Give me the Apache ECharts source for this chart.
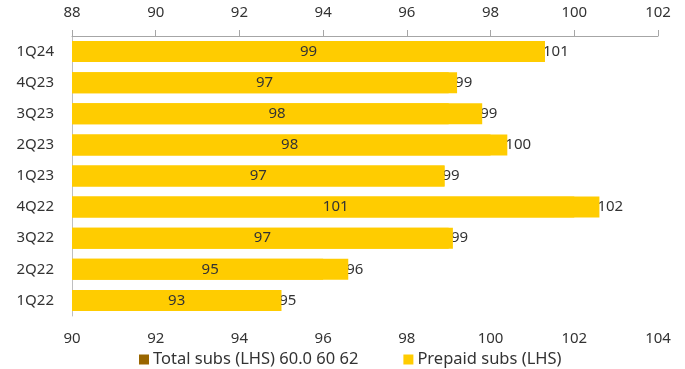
<!DOCTYPE html>
<html>
<head>
<meta charset="utf-8">
<script src="https://cdn.jsdelivr.net/npm/echarts@6/dist/echarts.min.js"></script>
<style>html,body{margin:0;padding:0;background:#fff;}#c{width:685px;height:369px;}</style>
</head>
<body>
<div id="c"></div>
<script>
var categories = ['1Q24','4Q23','3Q23','2Q23','1Q23','4Q22','3Q22','2Q22','1Q22'];
var prepaidSubs = [99.3, 97.2, 97.8, 98.4, 96.9, 100.6, 97.1, 94.6, 93.0];
var totalSubs = [101, 99, 99, 100, 98.9, 102, 99, 96, 95];
var topTicks = {min: 88, max: 102, interval: 2};
var bottomTicks = {min: 90, max: 104, interval: 2};

var FONT = '"Noto Sans", "Open Sans", sans-serif';
var TXT = '#333333';
var YELLOW = '#FFCC00';
var GOLD = '#996600';
var chart = echarts.init(document.getElementById('c'), null, {renderer: 'canvas'});

chart.setOption({
  animation: false,
  textStyle: {fontFamily: FONT},
  grid: {left: 72, right: 27, top: 36, bottom: 53, containLabel: false},
  legend: {
    top: 346, left: 134,
    data: [
      {name: 'Total subs (LHS) 60.0 60 62', itemStyle: {color: GOLD}},
      {name: 'Prepaid subs (LHS)', itemStyle: {color: YELLOW}}
    ],
    icon: 'rect', itemWidth: 10, itemHeight: 10, itemGap: 45,
    textStyle: {color: TXT, fontSize: 16.5, fontFamily: FONT, padding: [0, 0, 0, -1]}
  },
  yAxis: {
    type: 'category', inverse: true, data: categories,
    axisLine: {show: true, lineStyle: {color: '#bfbfbf'}},
    axisTick: {show: false},
    axisLabel: {color: TXT, fontSize: 15, margin: 18, fontFamily: FONT}
  },
  xAxis: [
    {
      type: 'value', position: 'top', min: topTicks.min, max: topTicks.max, interval: topTicks.interval,
      axisLine: {show: true, lineStyle: {color: '#a6a6a6'}},
      axisTick: {show: true, length: 6, lineStyle: {color: '#a6a6a6'}},
      splitLine: {show: false},
      axisLabel: {color: TXT, fontSize: 15, margin: 16, fontFamily: FONT}
    },
    {
      type: 'value', position: 'bottom', min: bottomTicks.min, max: bottomTicks.max, interval: bottomTicks.interval,
      axisLine: {show: false}, axisTick: {show: false}, splitLine: {show: false},
      axisLabel: {color: TXT, fontSize: 15, margin: 15, fontFamily: FONT}
    }
  ],
  series: [
    {
      name: 'Total subs (LHS) 60.0 60 62', type: 'bar', xAxisIndex: 1,
      data: totalSubs, barWidth: 21, barGap: '-100%',
      itemStyle: {color: YELLOW},
      label: {
        show: true, position: 'right', distance: 0, color: TXT, fontSize: 15, fontFamily: FONT,
        formatter: function (p) { return Math.round(p.value); }
      },
      labelLayout: function (p) {
        var x = chart.convertToPixel({xAxisIndex: 0}, prepaidSubs[p.dataIndex]);
        return {x: x - 2, y: p.rect.y + p.rect.height / 2, align: 'left', verticalAlign: 'middle'};
      },
      z: 1
    },
    {
      name: 'Prepaid subs (LHS)', type: 'bar', xAxisIndex: 0,
      data: prepaidSubs, barWidth: 21, barGap: '-100%',
      itemStyle: {color: YELLOW},
      label: {
        show: true, position: 'inside', color: TXT, fontSize: 15, fontFamily: FONT,
        formatter: function (p) { return Math.round(p.value); }
      },
      z: 2
    }
  ]
});
</script>
</body>
</html>
